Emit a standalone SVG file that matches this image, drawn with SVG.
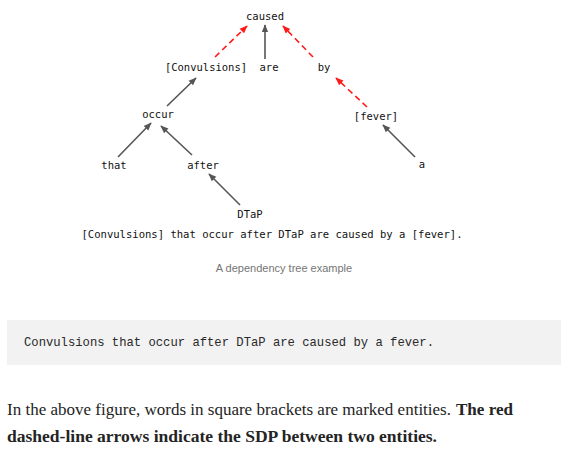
<svg xmlns="http://www.w3.org/2000/svg" width="570" height="453" viewBox="0 0 570 453">
<style>
.w{font-family:"DejaVu Sans Mono","Liberation Mono",monospace;font-size:10.5px;fill:#111;text-anchor:middle}
.k{stroke:#555;stroke-width:1.6;fill:none}
.r{stroke:#ff1a1a;stroke-width:1.6;fill:none;stroke-dasharray:6 4}
.cap{font-family:"Liberation Sans",Arial,sans-serif;font-size:11px;fill:#757575;text-anchor:middle}
.code{font-family:"Liberation Mono","Courier New",monospace;font-size:12.2px;fill:#292929}
.p{font-family:"Liberation Serif","DejaVu Serif",serif;font-size:16px;fill:#242424}
</style>
<defs>
<marker id="ak" viewBox="0 0 10 10" refX="9" refY="5" markerWidth="5" markerHeight="5" orient="auto" markerUnits="strokeWidth"><path d="M0,1 L10,5 L0,9 z" fill="#555"/></marker>
<marker id="ar" viewBox="0 0 10 10" refX="9" refY="5" markerWidth="5" markerHeight="5" orient="auto" markerUnits="strokeWidth"><path d="M0,1 L10,5 L0,9 z" fill="#ff1a1a"/></marker>
</defs>
<rect width="570" height="453" fill="#fff"/>
<g id="connectors">
<line class="k" x1="265" y1="59" x2="265" y2="25" marker-end="url(#ak)"/>
<line class="r" x1="215" y1="57" x2="247" y2="26" marker-end="url(#ar)"/>
<line class="r" x1="313" y1="57" x2="283" y2="26" marker-end="url(#ar)"/>
<line class="r" x1="367" y1="107" x2="336" y2="78" marker-end="url(#ar)"/>
<line class="k" x1="167" y1="106" x2="196" y2="78" marker-end="url(#ak)"/>
<line class="k" x1="118" y1="157" x2="151" y2="123" marker-end="url(#ak)"/>
<line class="k" x1="192" y1="155" x2="161" y2="126" marker-end="url(#ak)"/>
<line class="k" x1="240" y1="205" x2="209" y2="174" marker-end="url(#ak)"/>
<line class="k" x1="415" y1="157" x2="383" y2="125" marker-end="url(#ak)"/>
</g>
<g id="caused"><text class="w" x="265" y="20">caused</text></g>
<g id="convulsions"><text class="w" x="206" y="71">[Convulsions]</text></g>
<g id="are"><text class="w" x="269" y="71">are</text></g>
<g id="by"><text class="w" x="324" y="71">by</text></g>
<g id="occur"><text class="w" x="158" y="118">occur</text></g>
<g id="fever"><text class="w" x="376" y="120">[fever]</text></g>
<g id="that"><text class="w" x="114" y="169">that</text></g>
<g id="after"><text class="w" x="203" y="169">after</text></g>
<g id="a"><text class="w" x="422" y="168">a</text></g>
<g id="dtap"><text class="w" x="250" y="218">DTaP</text></g>
<text class="w" x="272" y="238" textLength="381" lengthAdjust="spacingAndGlyphs">[Convulsions] that occur after DTaP are caused by a [fever].</text>
<text class="cap" x="284" y="272">A dependency tree example</text>
<rect x="7" y="320" width="554" height="45" fill="#f2f2f2"/>
<text class="code" x="24" y="346" textLength="410" lengthAdjust="spacingAndGlyphs">Convulsions that occur after DTaP are caused by a fever.</text>
<text class="p" x="7" y="415" textLength="444" lengthAdjust="spacingAndGlyphs">In the above figure, words in square brackets are marked entities.</text>
<text class="p" x="456" y="415" font-weight="bold" textLength="57" lengthAdjust="spacingAndGlyphs">The red</text>
<text class="p" x="7" y="442" font-weight="bold" textLength="430" lengthAdjust="spacingAndGlyphs">dashed-line arrows indicate the SDP between two entities.</text>
</svg>
